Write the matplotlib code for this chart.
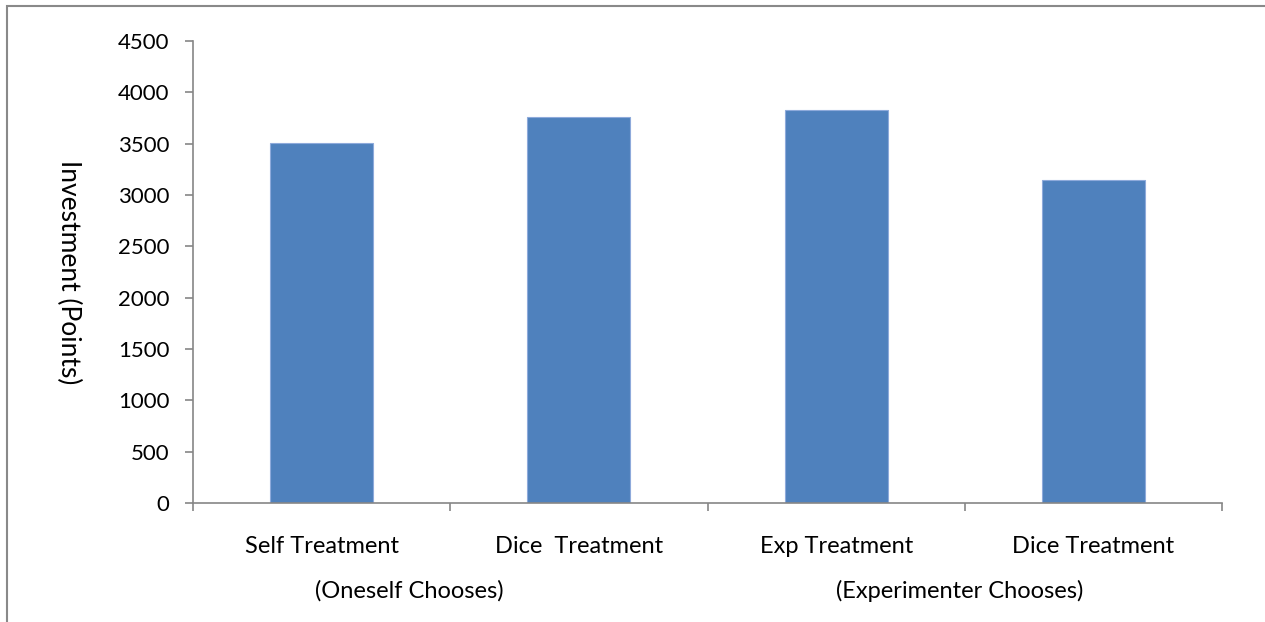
import matplotlib
matplotlib.use("Agg")
import matplotlib.pyplot as plt
from matplotlib.patches import Rectangle
import numpy as np

categories = ["Self Treatment", "Dice  Treatment", "Exp Treatment", "Dice Treatment"]
values = [3510, 3760, 3830, 3150]
groups = ["(Oneself Chooses)", "(Experimenter Chooses)"]
group_x = [0.34, 2.48]
yticks = list(range(0, 4501, 500))

plt.rcParams['font.family'] = ['Lato', 'DejaVu Sans']

fig = plt.figure(figsize=(12.65, 6.22), dpi=100)
ax = fig.add_axes([193 / 1265, 1 - 503 / 622, (1222 - 193) / 1265, (503 - 41) / 622])

x = np.arange(len(categories))
ax.bar(x, values, width=0.4, color='#4F81BD', edgecolor='#8EAADB', linewidth=0.8)

ax.set_xlim(-0.5, len(categories) - 0.5)
ax.set_ylim(0, 4500)
ax.set_yticks(yticks)
ax.set_yticklabels([str(v) for v in yticks], fontsize=16)

ax.set_xticks(np.arange(-0.5, len(categories), 1.0))
ax.set_xticklabels([])
ax.set_xticks(x, minor=True)
ax.set_xticklabels(categories, minor=True, fontsize=17)
ax.tick_params(axis='x', which='minor', length=0, pad=24)
ax.tick_params(axis='x', which='major', length=6, width=1.2, color='#868686')
ax.tick_params(axis='y', length=6, width=1.2, color='#868686', pad=11)

for s in ['top', 'right']:
    ax.spines[s].set_visible(False)
for s in ['left', 'bottom']:
    ax.spines[s].set_color('#868686')
    ax.spines[s].set_linewidth(1.2)

ax.set_ylabel("Investment (Points)", fontsize=19, rotation=270, labelpad=22)
ax.yaxis.set_label_coords(-0.133, 0.5)

for gx, g in zip(group_x, groups):
    ax.text(gx, -0.19, g, transform=ax.get_xaxis_transform(), ha='center', va='center', fontsize=17)

fig.patches.append(Rectangle((7.5 / 1265, -0.1), 1.2, 1 - 5.5 / 622 + 0.1, transform=fig.transFigure,
                             fill=False, edgecolor='#898989', linewidth=1.5))

fig.savefig("out.png", dpi=100)
